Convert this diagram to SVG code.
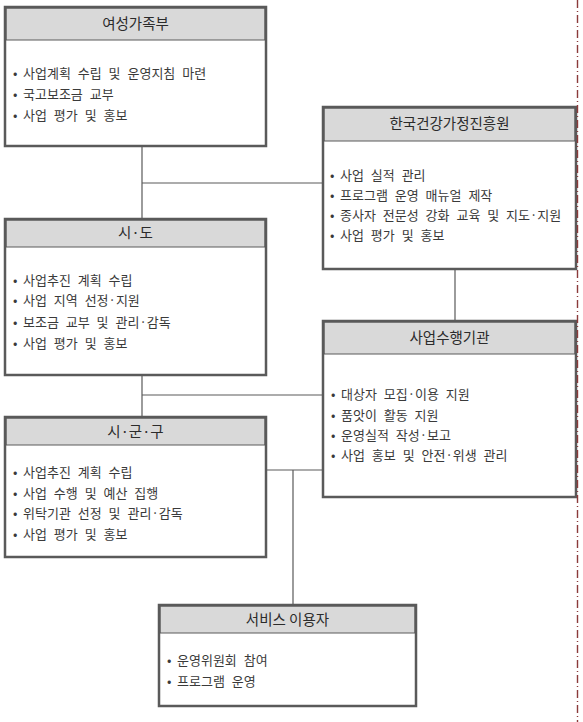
<svg xmlns="http://www.w3.org/2000/svg" width="583" height="722" viewBox="0 0 583 722">
<style>
.box{fill:#fff;stroke:#5a5a5a;stroke-width:2.5}
.hdr{fill:#d9d9d9;stroke:#5a5a5a;stroke-width:1}
.ttl{font-family:"Noto Sans CJK KR","Noto Sans",sans-serif;font-size:14.5px;fill:#2b2b2b;text-anchor:middle}
.itm{font-family:"Noto Sans CJK KR","Noto Sans",sans-serif;font-size:13px;word-spacing:4px;fill:#3a3a3a}
.con{stroke:#5a5a5a;stroke-width:1.2;fill:none}
.red{stroke:#8b3a3a;stroke-width:1.4;stroke-dasharray:8,3,1,3;fill:none}
</style>
<rect width="583" height="722" fill="#fff"/>
<g id="connectors">
<path class="con" d="M142,146V219M142,183H323M455,269V321M142,375V417M142,395H323M266,470H323M293,470V605"/>
</g>
<g id="n1">
<rect class="box" x="5" y="7" width="261" height="139"/>
<rect class="hdr" x="6.25" y="8.25" width="258.5" height="31.75"/>
<text class="ttl" x="135.5" y="29">여성가족부</text>
<text class="itm"><tspan x="13" y="77.5">•</tspan><tspan x="23">사업계획 수립 및 운영지침 마련</tspan></text>
<text class="itm"><tspan x="13" y="98.5">•</tspan><tspan x="23">국고보조금 교부</tspan></text>
<text class="itm"><tspan x="13" y="119.5">•</tspan><tspan x="23">사업 평가 및 홍보</tspan></text>
</g>
<g id="n2">
<rect class="box" x="323" y="107" width="253" height="162"/>
<rect class="hdr" x="324.25" y="108.25" width="250.5" height="32.75"/>
<text class="ttl" x="449.5" y="129">한국건강가정진흥원</text>
<text class="itm"><tspan x="330" y="179.5">•</tspan><tspan x="340">사업 실적 관리</tspan></text>
<text class="itm"><tspan x="330" y="200">•</tspan><tspan x="340">프로그램 운영 매뉴얼 제작</tspan></text>
<text class="itm"><tspan x="330" y="220">•</tspan><tspan x="340">종사자 전문성 강화 교육 및 지도·지원</tspan></text>
<text class="itm"><tspan x="330" y="240">•</tspan><tspan x="340">사업 평가 및 홍보</tspan></text>
</g>
<g id="n3">
<rect class="box" x="5" y="219" width="261" height="156"/>
<rect class="hdr" x="6.25" y="220.25" width="258.5" height="26.75"/>
<text class="ttl" x="135.5" y="238">시·도</text>
<text class="itm"><tspan x="13" y="284.5">•</tspan><tspan x="23">사업추진 계획 수립</tspan></text>
<text class="itm"><tspan x="13" y="305">•</tspan><tspan x="23">사업 지역 선정·지원</tspan></text>
<text class="itm"><tspan x="13" y="326.5">•</tspan><tspan x="23">보조금 교부 및 관리·감독</tspan></text>
<text class="itm"><tspan x="13" y="347.5">•</tspan><tspan x="23">사업 평가 및 홍보</tspan></text>
</g>
<g id="n4">
<rect class="box" x="323" y="321" width="253" height="176"/>
<rect class="hdr" x="324.25" y="322.25" width="250.5" height="31.75"/>
<text class="ttl" x="449.5" y="343">사업수행기관</text>
<text class="itm"><tspan x="331" y="398.5">•</tspan><tspan x="341">대상자 모집·이용 지원</tspan></text>
<text class="itm"><tspan x="331" y="419.5">•</tspan><tspan x="341">품앗이 활동 지원</tspan></text>
<text class="itm"><tspan x="331" y="439.5">•</tspan><tspan x="341">운영실적 작성·보고</tspan></text>
<text class="itm"><tspan x="331" y="459.5">•</tspan><tspan x="341">사업 홍보 및 안전·위생 관리</tspan></text>
</g>
<g id="n5">
<rect class="box" x="5" y="417" width="261" height="140"/>
<rect class="hdr" x="6.25" y="418.25" width="258.5" height="26.75"/>
<text class="ttl" x="135.5" y="436.5">시·군·구</text>
<text class="itm"><tspan x="13" y="476.5">•</tspan><tspan x="23">사업추진 계획 수립</tspan></text>
<text class="itm"><tspan x="13" y="497.5">•</tspan><tspan x="23">사업 수행 및 예산 집행</tspan></text>
<text class="itm"><tspan x="13" y="517.5">•</tspan><tspan x="23">위탁기관 선정 및 관리·감독</tspan></text>
<text class="itm"><tspan x="13" y="539">•</tspan><tspan x="23">사업 평가 및 홍보</tspan></text>
</g>
<g id="n6">
<rect class="box" x="159" y="605" width="257" height="101"/>
<rect class="hdr" x="160.25" y="606.25" width="254.5" height="26.75"/>
<text class="ttl" x="287.5" y="624.5">서비스 이용자</text>
<text class="itm"><tspan x="167" y="664.5">•</tspan><tspan x="177">운영위원회 참여</tspan></text>
<text class="itm"><tspan x="167" y="685.5">•</tspan><tspan x="177">프로그램 운영</tspan></text>
</g>
<line class="red" x1="577.5" y1="0" x2="577.5" y2="722"/>
</svg>
